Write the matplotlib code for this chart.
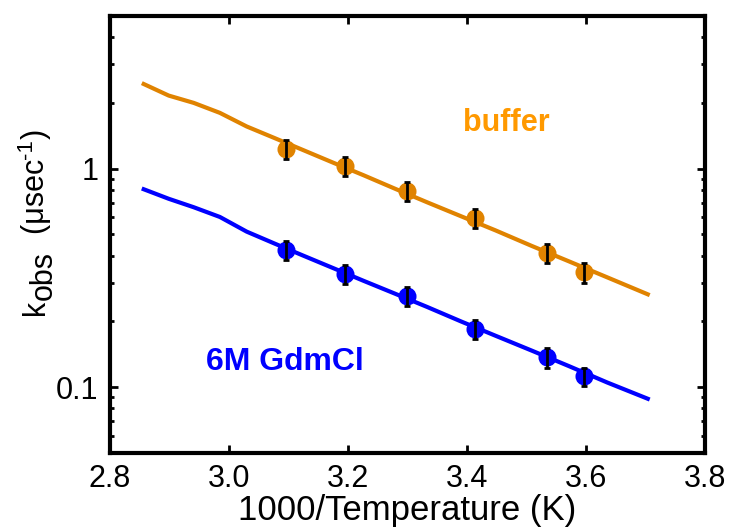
import matplotlib
matplotlib.use('Agg')
import matplotlib.pyplot as plt
from matplotlib.ticker import LogLocator, NullFormatter, FixedLocator
from matplotlib.transforms import IdentityTransform

plt.rcParams['font.family'] = ['Liberation Sans', 'DejaVu Sans']

# measured rates at each temperature (1000/T)
inv_temp = [3.096, 3.195, 3.300, 3.413, 3.534, 3.597]
k_buffer = [1.23, 1.03, 0.79, 0.595, 0.411, 0.335]
err_buffer = [0.12, 0.10, 0.08, 0.06, 0.04, 0.034]
k_gdmcl = [0.423, 0.331, 0.261, 0.184, 0.137, 0.112]
err_gdmcl = [0.042, 0.033, 0.026, 0.018, 0.014, 0.011]

# fitted curves, evaluated every 5 K from 350 K down to 270 K
fit_inv_temp = [2.857, 2.899, 2.941, 2.985, 3.030, 3.077, 3.125, 3.175, 3.226,
                3.279, 3.333, 3.390, 3.448, 3.509, 3.571, 3.636, 3.704]
fit_buffer = [2.44, 2.16, 2.00, 1.80, 1.56, 1.38, 1.216, 1.066, 0.934,
              0.810, 0.702, 0.606, 0.522, 0.443, 0.377, 0.318, 0.266]
fit_gdmcl = [0.805, 0.728, 0.666, 0.601, 0.515, 0.454, 0.400, 0.351, 0.307,
             0.268, 0.233, 0.200, 0.172, 0.147, 0.125, 0.105, 0.0885]

orange = '#E08300'
blue = '#0000FF'

fig = plt.figure(figsize=(7.32, 5.31), dpi=100)
ax = fig.add_axes([0.150, 0.147, 0.813, 0.823])

ax.plot(fit_inv_temp, fit_buffer, color=orange, lw=3, zorder=2)
ax.plot(fit_inv_temp, fit_gdmcl, color=blue, lw=3, zorder=2)

ax.plot(inv_temp, k_buffer, 'o', color=orange, ms=13, mec='none', zorder=3)
ax.plot(inv_temp, k_gdmcl, 'o', color=blue, ms=13, mec='none', zorder=3)
ax.errorbar(inv_temp, k_buffer, yerr=err_buffer, fmt='none', ecolor='black',
            elinewidth=2, capsize=2.5, capthick=2, zorder=4)
ax.errorbar(inv_temp, k_gdmcl, yerr=err_gdmcl, fmt='none', ecolor='black',
            elinewidth=2, capsize=2.5, capthick=2, zorder=4)

ax.set_yscale('log')
ax.set_xlim(2.8, 3.8)
ax.set_ylim(0.05, 5)

ax.xaxis.set_major_locator(FixedLocator([2.8, 3.0, 3.2, 3.4, 3.6, 3.8]))
ax.set_xticklabels(['2.8', '3.0', '3.2', '3.4', '3.6', '3.8'])
ax.yaxis.set_major_locator(FixedLocator([0.1, 1]))
ax.set_yticklabels(['0.1', '1'])
ax.yaxis.set_minor_locator(LogLocator(base=10, subs=range(2, 10)))
ax.yaxis.set_minor_formatter(NullFormatter())

ax.tick_params(which='both', direction='in', top=True, right=True,
               labelsize=22, width=2)
ax.tick_params(which='major', length=6, pad=8)
ax.tick_params(which='minor', length=3)
for s in ax.spines.values():
    s.set_linewidth(3)

ax.set_xlabel('1000/Temperature (K)', fontsize=25, labelpad=0)

# y label built piece by piece so the subscript keeps full size
renderer = fig.canvas.get_renderer()
base_x, cur_y = 44, 216
pieces = [('k', 22, 0), ('obs', 22, 8), ('  (\u03bcsec', 22, 0),
          ('-1', 16, -12), (')', 22, 0)]
for s, size, shift in pieces:
    t = fig.text(base_x + shift, cur_y, s, fontsize=size, rotation=90,
                 rotation_mode='anchor', ha='left', va='baseline',
                 transform=IdentityTransform())
    cur_y = t.get_window_extent(renderer).y1

ax.text(3.393, 1.49, 'buffer', color='#FF9900', fontsize=22, fontweight='bold')
ax.text(2.961, 0.12, '6M GdmCl', color=blue, fontsize=23, fontweight='bold')

fig.savefig('out.png', dpi=100)
